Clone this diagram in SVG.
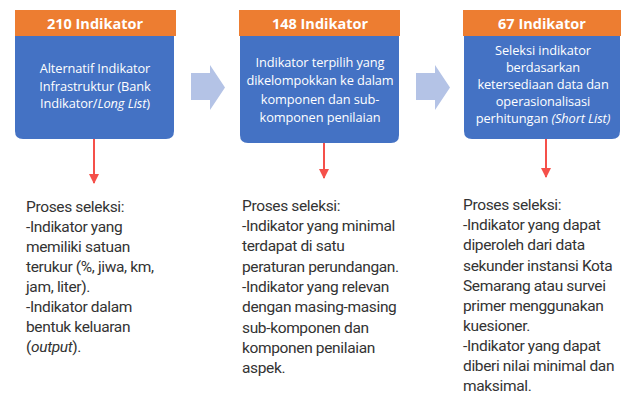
<svg xmlns="http://www.w3.org/2000/svg" width="623" height="395" viewBox="0 0 623 395">
<defs>
<style>
.hdr{fill:#ED7D31}
.body{fill:#4472C4}
.ht{font-family:"Open Sans","Noto Sans",sans-serif;font-weight:bold;font-size:14.5px;fill:#fff;text-anchor:middle}
.bt{font-family:"Open Sans","Noto Sans",sans-serif;font-size:12.8px;fill:#fff;text-anchor:middle;letter-spacing:-0.1px}
.pt{font-family:Roboto,"Liberation Sans",sans-serif;font-size:15.5px;fill:#333;letter-spacing:-0.35px}
.blk{fill:#B4C3E6}
.red{stroke:#F5504A;stroke-width:2;fill:none}
</style>
<marker id="ah" viewBox="0 0 10 10" refX="9" refY="5" markerWidth="5" markerHeight="5" orient="auto" markerUnits="strokeWidth">
<path d="M0,0 L10,5 L0,10 z" fill="#F5504A"/>
</marker>
</defs>
<rect width="623" height="395" fill="#fff"/>

<g id="node1">
<path class="body" d="M15,36 H174 V131 Q174,139 166,139 H23 Q15,139 15,131 Z"/>
<rect class="hdr" x="15" y="10" width="161" height="26"/>
<text class="ht" x="95" y="29">210 Indikator</text>
<text class="bt" x="95" y="73">Alternatif Indikator</text>
<text class="bt" x="95" y="91">Infrastruktur (Bank</text>
<text class="bt" x="95" y="108">Indikator/<tspan font-style="italic">Long List</tspan>)</text>
</g>

<g id="node2">
<path class="body" d="M240,36 H399 V135 Q399,143 391,143 H248 Q240,143 240,135 Z"/>
<rect class="hdr" x="239" y="10" width="161" height="26"/>
<text class="ht" x="320" y="29">148 Indikator</text>
<text class="bt" x="320" y="67">Indikator terpilih yang</text>
<text class="bt" x="320" y="85">dikelompokkan ke dalam</text>
<text class="bt" x="320" y="104">komponen dan sub-</text>
<text class="bt" x="320" y="122">komponen penilaian</text>
</g>

<g id="node3">
<path class="body" d="M464,36 H620 V131 Q620,139 612,139 H472 Q464,139 464,131 Z"/>
<rect class="hdr" x="463" y="10" width="158" height="26"/>
<text class="ht" x="542" y="29">67 Indikator</text>
<text class="bt" x="543" y="55">Seleksi indikator</text>
<text class="bt" x="543" y="72">berdasarkan</text>
<text class="bt" x="543" y="89">ketersediaan data dan</text>
<text class="bt" x="543" y="106">operasionalisasi</text>
<text class="bt" x="543" y="123">perhitungan <tspan font-style="italic">(Short List)</tspan></text>
</g>

<g id="text1">
<text class="pt" x="26" y="212">Proses seleksi:</text>
<text class="pt" x="26" y="232">-Indikator yang</text>
<text class="pt" x="26" y="252">memiliki satuan</text>
<text class="pt" x="26" y="272">terukur (%, jiwa, km,</text>
<text class="pt" x="26" y="292">jam, liter).</text>
<text class="pt" x="26" y="312">-Indikator dalam</text>
<text class="pt" x="26" y="332">bentuk keluaran</text>
<text class="pt" x="26" y="352">(<tspan font-style="italic">output</tspan>).</text>
</g>

<g id="text2">
<text class="pt" x="242" y="211">Proses seleksi:</text>
<text class="pt" x="242" y="231">-Indikator yang minimal</text>
<text class="pt" x="242" y="251">terdapat di satu</text>
<text class="pt" x="242" y="272">peraturan perundangan.</text>
<text class="pt" x="242" y="292">-Indikator yang relevan</text>
<text class="pt" x="242" y="312">dengan masing-masing</text>
<text class="pt" x="242" y="333">sub-komponen dan</text>
<text class="pt" x="242" y="353">komponen penilaian</text>
<text class="pt" x="242" y="373">aspek.</text>
</g>

<g id="text3">
<text class="pt" x="463" y="210">Proses seleksi:</text>
<text class="pt" x="463" y="230">-Indikator yang dapat</text>
<text class="pt" x="463" y="250">diperoleh dari data</text>
<text class="pt" x="463" y="271">sekunder instansi Kota</text>
<text class="pt" x="463" y="291">Semarang atau survei</text>
<text class="pt" x="463" y="311">primer menggunakan</text>
<text class="pt" x="463" y="331">kuesioner.</text>
<text class="pt" x="463" y="351">-Indikator yang dapat</text>
<text class="pt" x="463" y="371">diberi nilai minimal dan</text>
<text class="pt" x="463" y="391">maksimal.</text>
</g>

<g id="connectors">
<path class="blk" d="M191,73 H210 V65 L225,87.5 L210,110 V100 H191 Z"/>
<path class="blk" d="M416,73 H435 V65 L450,87.5 L435,110 V100 H416 Z"/>
<line class="red" x1="94" y1="139" x2="94" y2="183" marker-end="url(#ah)"/>
<line class="red" x1="324" y1="143" x2="324" y2="178" marker-end="url(#ah)"/>
<line class="red" x1="546" y1="139" x2="546" y2="177" marker-end="url(#ah)"/>
</g>
</svg>
